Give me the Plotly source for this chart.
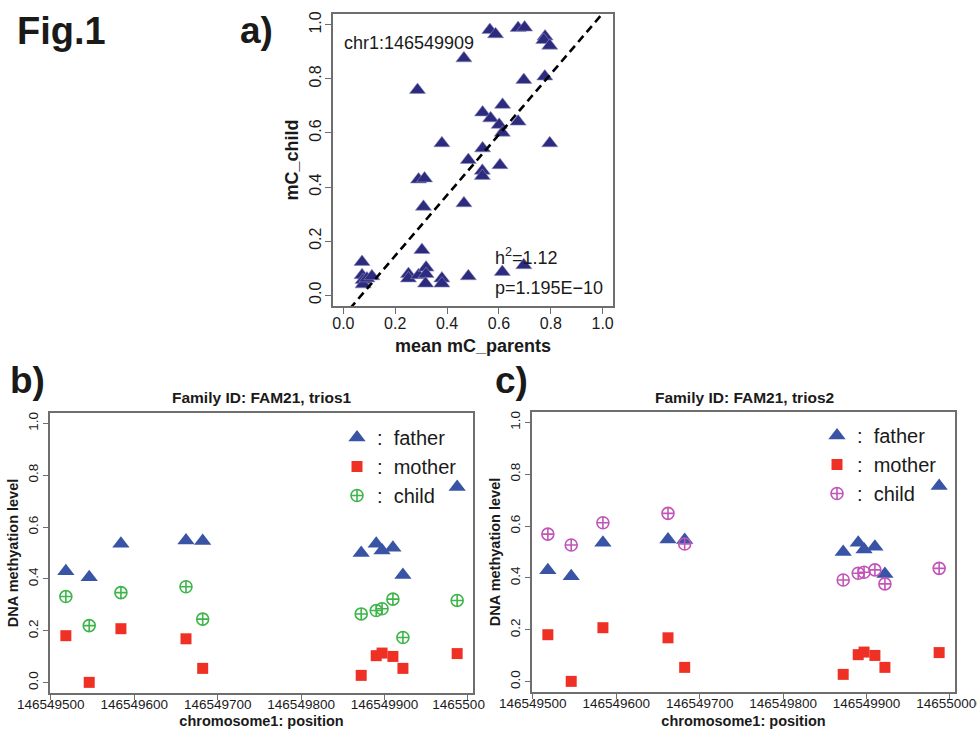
import plotly.graph_objects as go

# ---------------- data ----------------
# panel a: mean parental methylation vs child methylation (chr1:146549909)
a_parents = [0.565, 0.587, 0.674, 0.699, 0.778, 0.773, 0.796, 0.465, 0.286, 0.696,
             0.777, 0.614, 0.537, 0.568, 0.601, 0.674, 0.613, 0.796, 0.380, 0.537,
             0.482, 0.536, 0.536, 0.604, 0.465, 0.290, 0.313, 0.309, 0.303, 0.072,
             0.072, 0.076, 0.076, 0.091, 0.110, 0.251, 0.251, 0.290, 0.319, 0.319,
             0.317, 0.380, 0.380, 0.482, 0.613, 0.696]
a_child = [0.981, 0.965, 0.988, 0.990, 0.957, 0.944, 0.923, 0.876, 0.759, 0.796,
           0.809, 0.704, 0.676, 0.654, 0.630, 0.642, 0.601, 0.562, 0.562, 0.543,
           0.500, 0.460, 0.441, 0.481, 0.340, 0.428, 0.432, 0.327, 0.167, 0.123,
           0.074, 0.056, 0.040, 0.062, 0.070, 0.078, 0.062, 0.074, 0.102, 0.078,
           0.043, 0.062, 0.043, 0.070, 0.086, 0.111]
fit_slope = 1.12
fit_intercept = -0.078
a_label = "chr1:146549909"
a_h2 = "h<sup>2</sup>=1.12"
a_p = "p=1.195E\u221210"

# panels b / c: positions on chromosome 1
positions = [146549518, 146549546, 146549584, 146549662, 146549682, 146549872,
             146549890, 146549897, 146549910, 146549922, 146549987]
father = [0.430, 0.406, 0.536, 0.548, 0.546, 0.500, 0.536, 0.510, 0.520, 0.415, 0.755]
mother = [0.181, 0.001, 0.208, 0.169, 0.055, 0.028, 0.104, 0.114, 0.101, 0.055, 0.112]
child_trios1 = [0.332, 0.220, 0.347, 0.370, 0.245, 0.265, 0.278, 0.285, 0.322, 0.174, 0.317]
child_trios2 = [0.569, 0.527, 0.613, 0.649, 0.531, 0.392, 0.418, 0.422, 0.431, 0.377, 0.437]

pos_ticks = [146549500, 146549600, 146549700, 146549800, 146549900, 146550000]
pos_ticktext_b = ["146549500", "146549600", "146549700", "146549800", "146549900",
                  "1465500" + "\u00a0" * 5]
pos_ticktext_c = ["146549500", "146549600", "146549700", "146549800", "146549900", "146550000"]
meth_ticks = [0.0, 0.2, 0.4, 0.6, 0.8, 1.0]

# ---------------- style ----------------
FONT = "Liberation Sans, Arial, Helvetica, sans-serif"
NAVY = "#2d2b7d"
BLUE = "#3a54a5"
RED = "#ee3124"
GREEN = "#3db54a"
PURPLE = "#c156b8"
BOX = "#6e6e6e"
TXT = "#1a1a1a"

W, H = 977, 729
def px_x(p): return p / W
def px_y(p): return 1 - p / H

fig = go.Figure()

# panel a
fig.add_trace(go.Scatter(x=a_parents, y=a_child, mode="markers",
                         marker=dict(symbol="triangle-up", size=14, color=NAVY,
                                     line=dict(width=0.6, color="#8d8cc0")),
                         xaxis="x", yaxis="y", showlegend=False))
line_x = [-0.04, 1.04]
line_y = [fit_intercept + fit_slope * v for v in line_x]
fig.add_trace(go.Scatter(x=line_x, y=line_y, mode="lines",
                         line=dict(color="black", width=2.6, dash="8px,5px"),
                         xaxis="x", yaxis="y", showlegend=False))

# panel b
fig.add_trace(go.Scatter(x=positions, y=father, mode="markers", name=":  father",
                         marker=dict(symbol="triangle-up", size=15, color=BLUE),
                         xaxis="x2", yaxis="y2", legend="legend"))
fig.add_trace(go.Scatter(x=positions, y=mother, mode="markers", name=":  mother",
                         marker=dict(symbol="square", size=11, color=RED),
                         xaxis="x2", yaxis="y2", legend="legend"))
fig.add_trace(go.Scatter(x=positions, y=child_trios1, mode="markers", name=":  child",
                         marker=dict(symbol="circle-cross-open", size=12, color=GREEN,
                                     line=dict(width=1.6, color=GREEN)),
                         xaxis="x2", yaxis="y2", legend="legend"))

# panel c
fig.add_trace(go.Scatter(x=positions, y=father, mode="markers", name=":  father",
                         marker=dict(symbol="triangle-up", size=15, color=BLUE),
                         xaxis="x3", yaxis="y3", legend="legend2"))
fig.add_trace(go.Scatter(x=positions, y=mother, mode="markers", name=":  mother",
                         marker=dict(symbol="square", size=11, color=RED),
                         xaxis="x3", yaxis="y3", legend="legend2"))
fig.add_trace(go.Scatter(x=positions, y=child_trios2, mode="markers", name=":  child",
                         marker=dict(symbol="circle-cross-open", size=12, color=PURPLE,
                                     line=dict(width=1.6, color=PURPLE)),
                         xaxis="x3", yaxis="y3", legend="legend2"))

def box_axis(**kw):
    d = dict(showgrid=False, zeroline=False, showline=True, mirror=True,
             linecolor=BOX, linewidth=1.5, ticks="outside", tickcolor=BOX,
             ticklen=6, tickwidth=1.3, automargin=False,
             tickfont=dict(family=FONT, size=16, color=TXT))
    d.update(kw)
    return d

pos_range = [146549499, 146550006]

fig.update_layout(
    width=W, height=H, margin=dict(l=0, r=0, t=0, b=0, autoexpand=False),
    paper_bgcolor="white", plot_bgcolor="white",
    font=dict(family=FONT, color=TXT),
    xaxis=box_axis(domain=[px_x(333), px_x(613)], range=[-0.04, 1.04],
                   tickvals=meth_ticks, tickformat=".1f", anchor="y",
                   ticklabelstandoff=-4,
                   title=dict(text="<b>mean mC_parents</b>", font=dict(size=18, family=FONT),
                              standoff=8)),
    yaxis=box_axis(domain=[px_y(306), px_y(14)], range=[-0.04, 1.04],
                   tickvals=meth_ticks, tickformat=".1f", tickangle=-90, anchor="x",
                   ticklabelstandoff=-2,
                   title=dict(text="<b>mC_child</b>", font=dict(size=18, family=FONT),
                              standoff=4)),
    xaxis2=box_axis(domain=[px_x(50), px_x(473)], range=pos_range, anchor="y2",
                    tickvals=pos_ticks, ticktext=pos_ticktext_b, ticklen=5,
                    ticklabelstandoff=-7,
                    tickfont=dict(family=FONT, size=13.5, color=TXT),
                    title=dict(text="<b>chromosome1: position</b>",
                               font=dict(size=14.5, family=FONT), standoff=12)),
    yaxis2=box_axis(domain=[px_y(693), px_y(413)], range=[-0.04, 1.04], anchor="x2",
                    tickvals=meth_ticks, tickformat=".1f", tickangle=-90, ticklen=5,
                    tickfont=dict(family=FONT, size=13.5, color=TXT),
                    title=dict(text="<b>DNA methyation level</b>",
                               font=dict(size=14.5, family=FONT), standoff=4)),
    xaxis3=box_axis(domain=[px_x(532), px_x(955)], range=pos_range, anchor="y3",
                    tickvals=pos_ticks, ticktext=pos_ticktext_c, ticklen=5,
                    ticklabelstandoff=-7, ticklabeloverflow="allow",
                    tickfont=dict(family=FONT, size=13.5, color=TXT),
                    title=dict(text="<b>chromosome1: position</b>",
                               font=dict(size=14.5, family=FONT), standoff=12)),
    yaxis3=box_axis(domain=[px_y(692), px_y(412)], range=[-0.04, 1.04], anchor="x3",
                    tickvals=meth_ticks, tickformat=".1f", tickangle=-90, ticklen=5,
                    tickfont=dict(family=FONT, size=13.5, color=TXT),
                    title=dict(text="<b>DNA methyation level</b>",
                               font=dict(size=14.5, family=FONT), standoff=4)),
    legend=dict(x=px_x(337), y=px_y(418), xanchor="left", yanchor="top",
                bgcolor="rgba(0,0,0,0)", font=dict(size=20, family=FONT, color=TXT),
                tracegroupgap=0, itemwidth=30),
    legend2=dict(x=px_x(817), y=px_y(416), xanchor="left", yanchor="top",
                 bgcolor="rgba(0,0,0,0)", font=dict(size=20, family=FONT, color=TXT),
                 tracegroupgap=0, itemwidth=30),
    annotations=[
        dict(text="<b>Fig.1</b>", x=px_x(15), y=px_y(31), xref="paper", yref="paper",
             xanchor="left", yanchor="middle", showarrow=False,
             font=dict(size=38, family=FONT, color=TXT)),
        dict(text="<b>a)</b>", x=px_x(238), y=px_y(31), xref="paper", yref="paper",
             xanchor="left", yanchor="middle", showarrow=False,
             font=dict(size=37, family=FONT, color=TXT)),
        dict(text="<b>b)</b>", x=px_x(8), y=px_y(381), xref="paper", yref="paper",
             xanchor="left", yanchor="middle", showarrow=False,
             font=dict(size=37, family=FONT, color=TXT)),
        dict(text="<b>c)</b>", x=px_x(493), y=px_y(381), xref="paper", yref="paper",
             xanchor="left", yanchor="middle", showarrow=False,
             font=dict(size=37, family=FONT, color=TXT)),
        dict(text="<b>Family ID: FAM21, trios1</b>", x=px_x(261.5), y=px_y(397),
             xref="paper", yref="paper", xanchor="center", yanchor="middle",
             showarrow=False, font=dict(size=15.5, family=FONT, color=TXT)),
        dict(text="<b>Family ID: FAM21, trios2</b>", x=px_x(744), y=px_y(397),
             xref="paper", yref="paper", xanchor="center", yanchor="middle",
             showarrow=False, font=dict(size=15.5, family=FONT, color=TXT)),
        dict(text=a_label, x=px_x(342), y=px_y(43), xref="paper", yref="paper",
             xanchor="left", yanchor="middle", showarrow=False,
             font=dict(size=18, family=FONT, color=TXT)),
        dict(text=a_h2, x=px_x(493), y=px_y(256), xref="paper", yref="paper",
             xanchor="left", yanchor="middle", showarrow=False,
             font=dict(size=18, family=FONT, color=TXT)),
        dict(text=a_p, x=px_x(493), y=px_y(288), xref="paper", yref="paper",
             xanchor="left", yanchor="middle", showarrow=False,
             font=dict(size=18, family=FONT, color=TXT)),
    ],
)

fig.write_html("out.html")
